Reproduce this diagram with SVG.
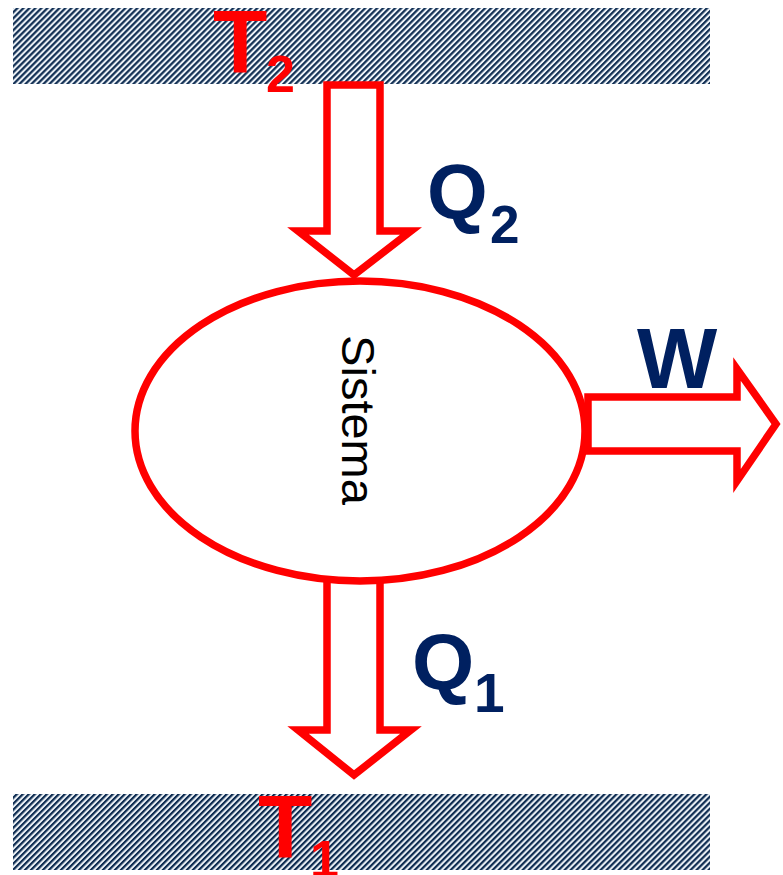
<svg xmlns="http://www.w3.org/2000/svg" width="783" height="875" viewBox="0 0 783 875">
<defs>
<pattern id="hatch" patternUnits="userSpaceOnUse" width="4.24" height="10" patternTransform="rotate(45)">
<rect width="4.24" height="10" fill="#eef3f8"/>
<rect width="2.2" height="10" fill="#0f2d52"/>
</pattern>
</defs>
<style>
.band{fill:url(#hatch);}
.arrow{fill:#fff;stroke:#ff0000;stroke-width:7.5;stroke-miterlimit:10;}
.sys{fill:#fff;stroke:#ff0000;stroke-width:7.5;}
.t{font-family:"Liberation Sans",Arial,sans-serif;font-weight:bold;fill:#ff0000;}
.q{font-family:"Liberation Sans",Arial,sans-serif;font-weight:bold;fill:#002060;}
.lbl{font-family:"Liberation Sans",Arial,sans-serif;fill:#000;font-size:47px;}
</style>
<g id="reservoir-T2">
<rect class="band" x="13" y="8" width="697" height="76"/>
<text class="t" x="213" y="72" font-size="89">T</text>
<text class="t" x="266" y="92" font-size="52">2</text>
</g>
<g id="reservoir-T1">
<rect class="band" x="13" y="794" width="697" height="76"/>
<text class="t" x="258" y="857" font-size="89">T</text>
<text class="t" x="310" y="877" font-size="52">1</text>
</g>
<g id="connectors">
<polygon id="arrow-Q2" class="arrow" points="327,85 380,85 380,231 411,231 354,275 298,231 327,231"/>
<polygon id="arrow-Q1" class="arrow" points="327,578 380,578 380,730 411,730 354,775 298,730 327,730"/>
<polygon id="arrow-W" class="arrow" points="588,397 737,397 737,369 776,424 737,481 737,451 588,451"/>
</g>
<g id="sistema">
<ellipse class="sys" cx="360" cy="431" rx="225" ry="150"/>
<text class="lbl" text-anchor="middle" transform="translate(342,420) rotate(90)">Sistema</text>
</g>
<g id="label-Q2">
<text class="q" x="427" y="219" font-size="78">Q</text>
<text class="q" x="490" y="243" font-size="53">2</text>
</g>
<g id="label-Q1">
<text class="q" x="412" y="689" font-size="80">Q</text>
<text class="q" x="474" y="712" font-size="55">1</text>
</g>
<g id="label-W">
<text class="q" x="637" y="388" font-size="85">W</text>
</g>
</svg>
